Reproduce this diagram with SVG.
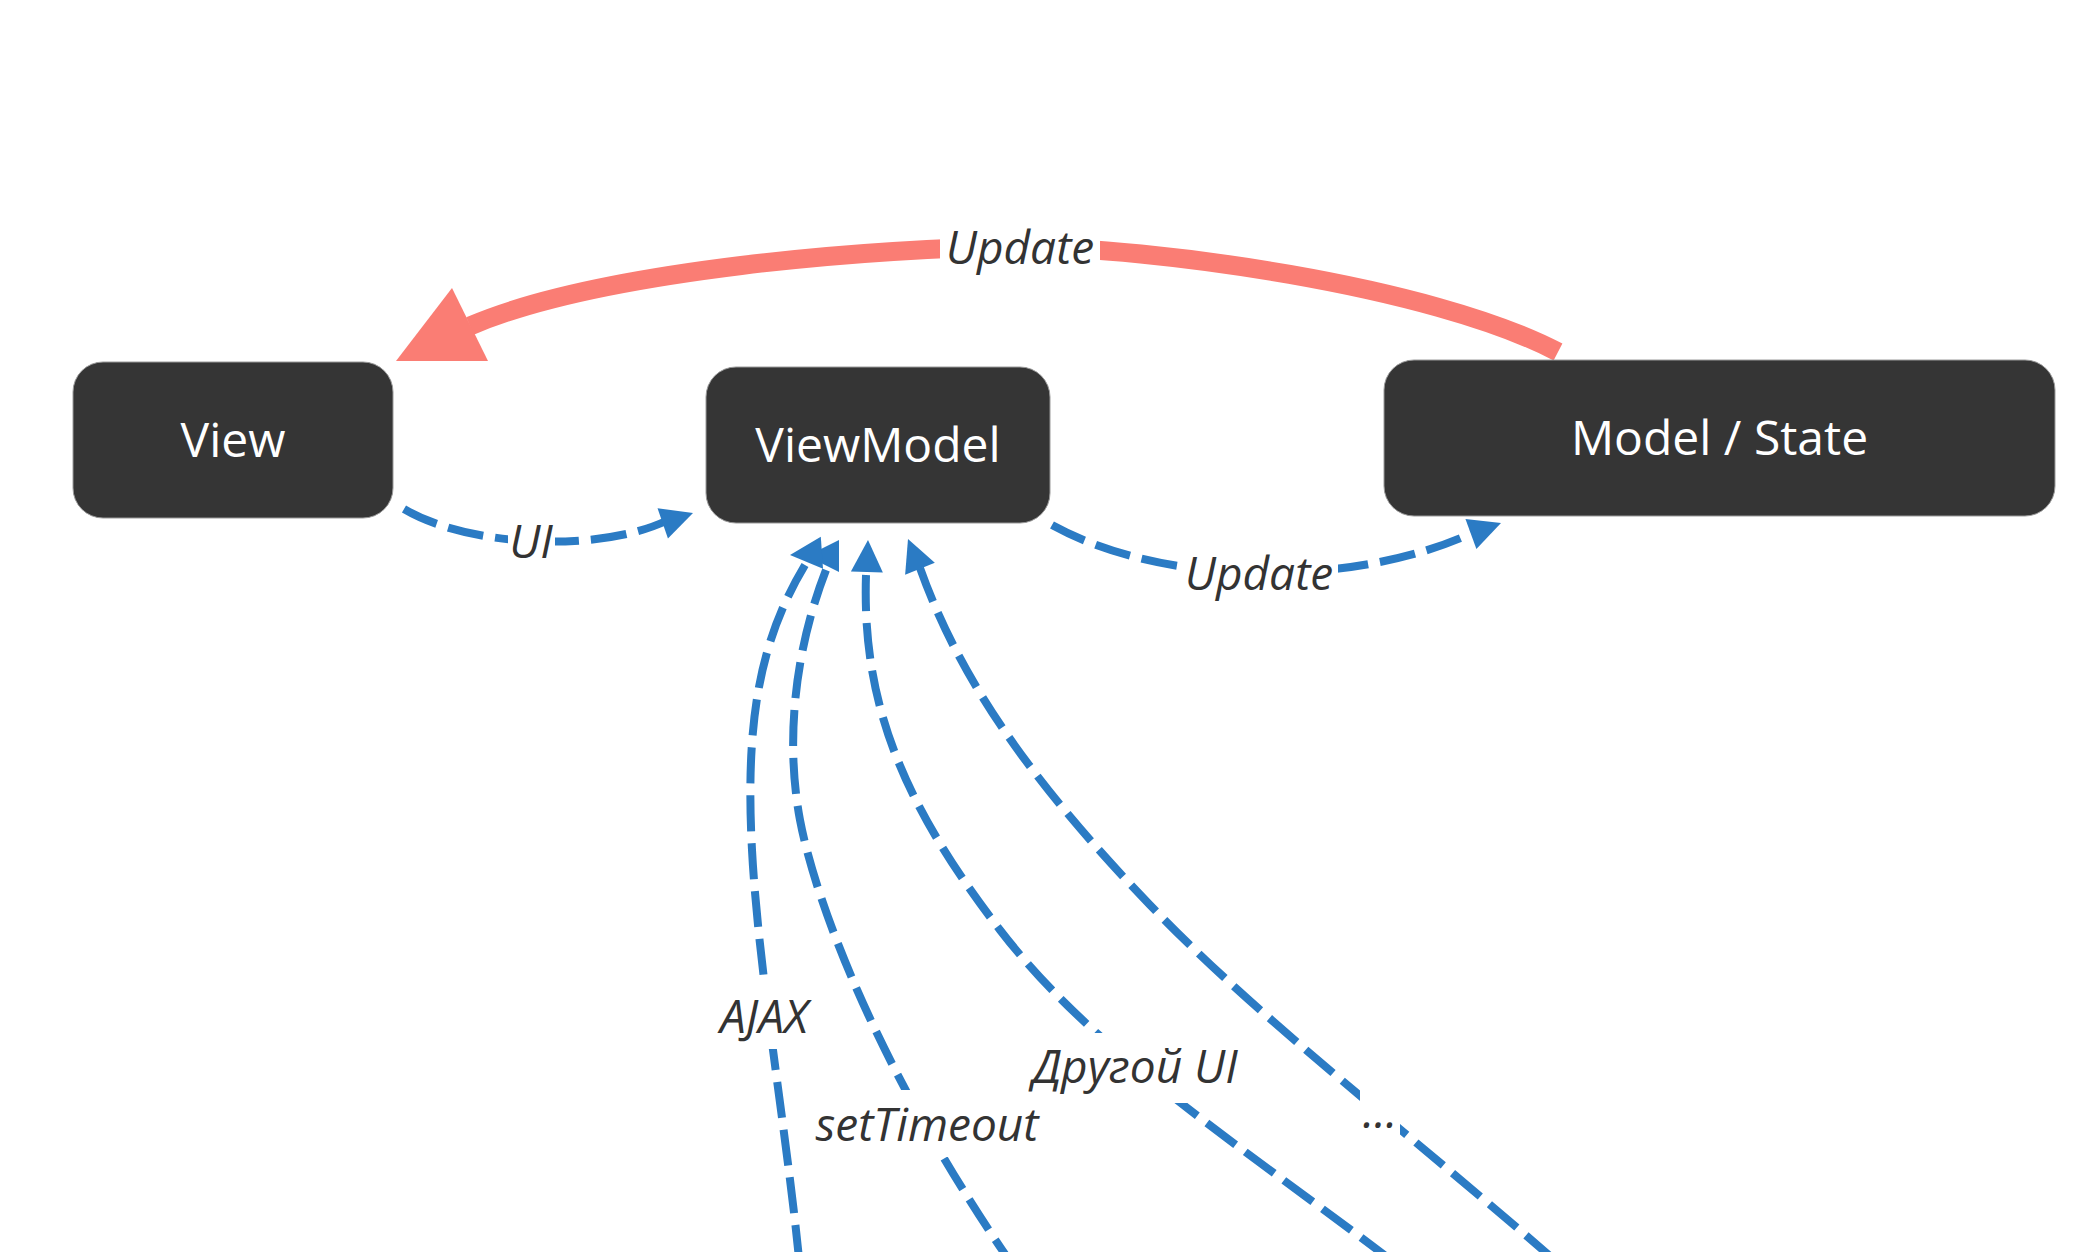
<svg xmlns="http://www.w3.org/2000/svg" xmlns:xlink="http://www.w3.org/1999/xlink" width="2076" height="1252" viewBox="0 0 2076 1252">
<style>
.node rect{fill:#353535;stroke:#9a9a9a;stroke-width:1}
.node text{fill:#ffffff;font-family:"Open Sans","Noto Sans","Liberation Sans",sans-serif;font-size:48px;text-anchor:middle}
.edge{fill:none;stroke:#2b7bc4;stroke-width:8;stroke-dasharray:36 12}
.red{fill:none;stroke:#fa7d74;stroke-width:19}
.lbl{fill:#333333;font-family:"Open Sans","Noto Sans","Liberation Sans",sans-serif;font-size:46px;font-style:italic;text-anchor:middle}
.bg{fill:#ffffff}
.ah{fill:#2b7bc4}
</style>
<defs>
<path id="arrow" d="M0,0 L-32,-16 L-32,16 Z"/>
</defs>
<rect width="2076" height="1252" fill="#ffffff"/>
<g id="connectors">
<path class="red" d="M1558,352 C1430,285 1150,247 1020,247 C880,247 600,270 470,326"/>
<polygon points="452,288 396,361 488,361" fill="#fa7d74"/>
<path class="edge" d="M404,509 C470,548 600,552 666,521"/>
<use xlink:href="#arrow" class="ah" transform="translate(693,513) rotate(-19)"/>
<path class="edge" d="M1052,525 C1170,590 1360,585 1472,533"/>
<use xlink:href="#arrow" class="ah" transform="translate(1501,523) rotate(-20)"/>
<path class="edge" d="M805,565 C760,640 745,720 752,850 S790,1150 802,1290"/>
<path class="edge" d="M826,570 C795,650 785,740 800,820 S880,1080 1030,1290"/>
<path class="edge" d="M866,575 C862,700 900,800 1000,930 S1250,1150 1430,1290"/>
<path class="edge" d="M920,568 C960,680 1030,780 1150,905 S1420,1140 1600,1300"/>
<use xlink:href="#arrow" class="ah" transform="translate(807,556) rotate(180)"/>
<use xlink:href="#arrow" class="ah" transform="translate(790,555) rotate(176)"/>
<use xlink:href="#arrow" class="ah" transform="translate(868,540) rotate(-88)"/>
<use xlink:href="#arrow" class="ah" transform="translate(908,539) rotate(-112)"/>
</g>
<g id="labels">
<rect class="bg" x="940" y="213" width="160" height="67"/>
<text class="lbl" x="1020" y="264">Update</text>
<rect class="bg" x="508" y="507" width="47" height="67"/>
<text class="lbl" x="531" y="558">UI</text>
<rect class="bg" x="1180" y="539" width="158" height="67"/>
<text class="lbl" x="1259" y="590">Update</text>
<rect class="bg" x="716" y="982" width="96" height="67"/>
<text class="lbl" x="764" y="1033">AJAX</text>
<rect class="bg" x="809" y="1090" width="237" height="67"/>
<text class="lbl" x="927" y="1141">setTimeout</text>
<rect class="bg" x="1023" y="1033" width="223" height="70"/>
<text class="lbl" x="1135" y="1083">Другой UI</text>
<rect class="bg" x="1360" y="1077" width="40" height="67"/>
<text class="lbl" x="1380" y="1128">...</text>
</g>
<g id="node-view" class="node">
<rect x="73" y="362" width="320" height="156" rx="30" ry="30"/>
<text x="233" y="457">View</text>
</g>
<g id="node-viewmodel" class="node">
<rect x="706" y="367" width="344" height="156" rx="30" ry="30"/>
<text x="878" y="462">ViewModel</text>
</g>
<g id="node-model" class="node">
<rect x="1384" y="360" width="671" height="156" rx="30" ry="30"/>
<text x="1719.5" y="455">Model / State</text>
</g>
</svg>
